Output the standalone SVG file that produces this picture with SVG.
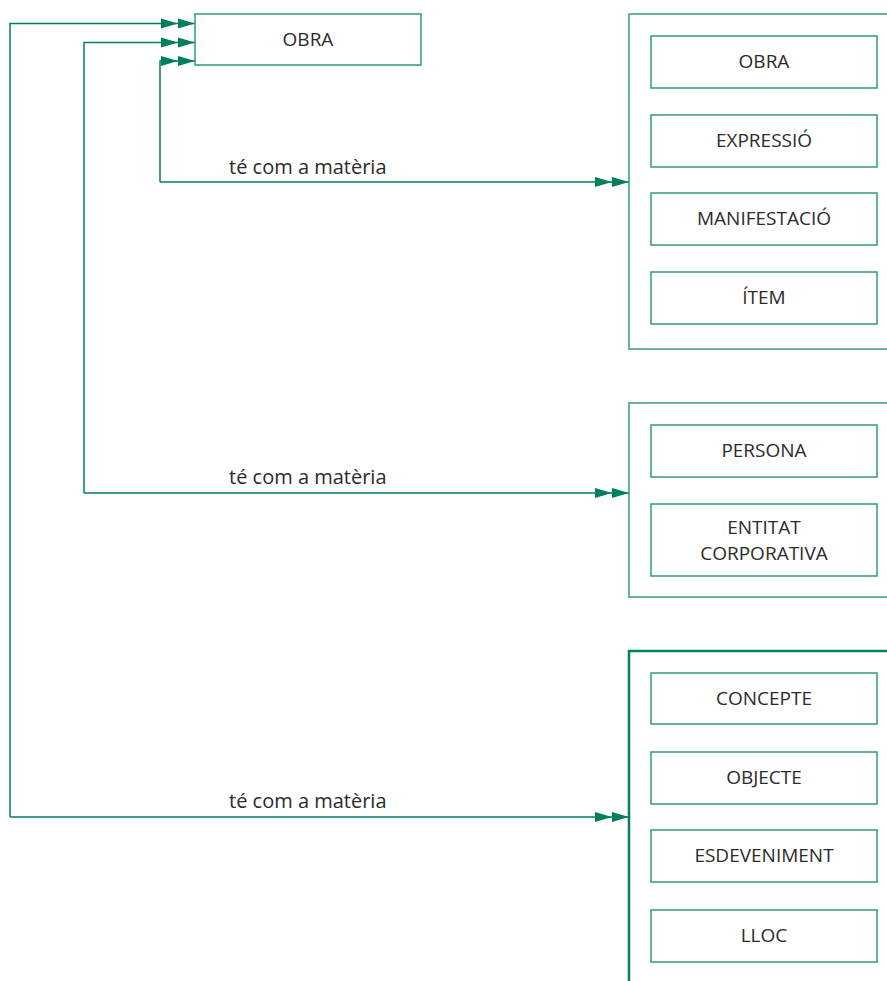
<svg xmlns="http://www.w3.org/2000/svg" width="887" height="981" viewBox="0 0 887 981">
<defs>
<marker id="dbl" markerWidth="34" markerHeight="12" refX="34" refY="6" orient="auto" markerUnits="userSpaceOnUse">
<path d="M0,1 L17,6 L0,11 Z M17,1 L34,6 L17,11 Z" fill="#00805c"/>
</marker>
<style>
.box{fill:#fff;stroke:#2f9a78;stroke-width:1.5}
.grp{fill:none;stroke:#2f9a78;stroke-width:1.5}
.grp3{fill:none;stroke:#00805c;stroke-width:2.5}
.lbl{font-family:"Open Sans","Liberation Sans",sans-serif;font-size:19px;fill:#2b2b2b;text-anchor:middle;dominant-baseline:central}
.conn{fill:none;stroke:#00805c;stroke-width:1.5}
.el{font-family:"Open Sans","Liberation Sans",sans-serif;font-size:20px;fill:#2b2b2b}
</style>
</defs>
<rect width="887" height="981" fill="#fff"/>
<g id="connectors">
<path class="conn" d="M160,182 L160,61 L195,61" marker-end="url(#dbl)"/>
<path class="conn" d="M160,182 L629,182" marker-end="url(#dbl)"/>
<path class="conn" d="M84,493 L84,42.5 L195,42.5" marker-end="url(#dbl)"/>
<path class="conn" d="M84,493 L629,493" marker-end="url(#dbl)"/>
<path class="conn" d="M10,817 L10,23.5 L195,23.5" marker-end="url(#dbl)"/>
<path class="conn" d="M10,817 L629,817" marker-end="url(#dbl)"/>
<text class="el" x="229" y="174">té com a matèria</text>
<text class="el" x="229" y="484">té com a matèria</text>
<text class="el" x="229" y="808">té com a matèria</text>
</g>
<g id="obra-main">
<rect class="box" x="195" y="14" width="226" height="51"/>
<text class="lbl" x="308" y="39">OBRA</text>
</g>
<g id="group1">
<path class="grp" d="M890,14 L629,14 L629,349 L890,349"/>
</g>
<g id="g1-obra"><rect class="box" x="651" y="36" width="226" height="52"/><text class="lbl" x="764" y="61">OBRA</text></g>
<g id="g1-expressio"><rect class="box" x="651" y="115" width="226" height="52"/><text class="lbl" x="764" y="140">EXPRESSIÓ</text></g>
<g id="g1-manifestacio"><rect class="box" x="651" y="193" width="226" height="52"/><text class="lbl" x="764" y="218">MANIFESTACIÓ</text></g>
<g id="g1-item"><rect class="box" x="651" y="272" width="226" height="52"/><text class="lbl" x="764" y="297">ÍTEM</text></g>
<g id="group2">
<path class="grp" d="M890,403 L629,403 L629,597 L890,597"/>
</g>
<g id="g2-persona"><rect class="box" x="651" y="425" width="226" height="52"/><text class="lbl" x="764" y="450">PERSONA</text></g>
<g id="g2-entitat"><rect class="box" x="651" y="504" width="226" height="72"/><text class="lbl" x="764" y="527">ENTITAT</text><text class="lbl" x="764" y="553">CORPORATIVA</text></g>
<g id="group3">
<path class="grp3" d="M890,651 L629,651 L629,985"/>
</g>
<g id="g3-concepte"><rect class="box" x="651" y="673" width="226" height="51"/><text class="lbl" x="764" y="698">CONCEPTE</text></g>
<g id="g3-objecte"><rect class="box" x="651" y="752" width="226" height="52"/><text class="lbl" x="764" y="777">OBJECTE</text></g>
<g id="g3-esdeveniment"><rect class="box" x="651" y="830" width="226" height="52"/><text class="lbl" x="764" y="855">ESDEVENIMENT</text></g>
<g id="g3-lloc"><rect class="box" x="651" y="910" width="226" height="52"/><text class="lbl" x="764" y="935">LLOC</text></g>
</svg>
